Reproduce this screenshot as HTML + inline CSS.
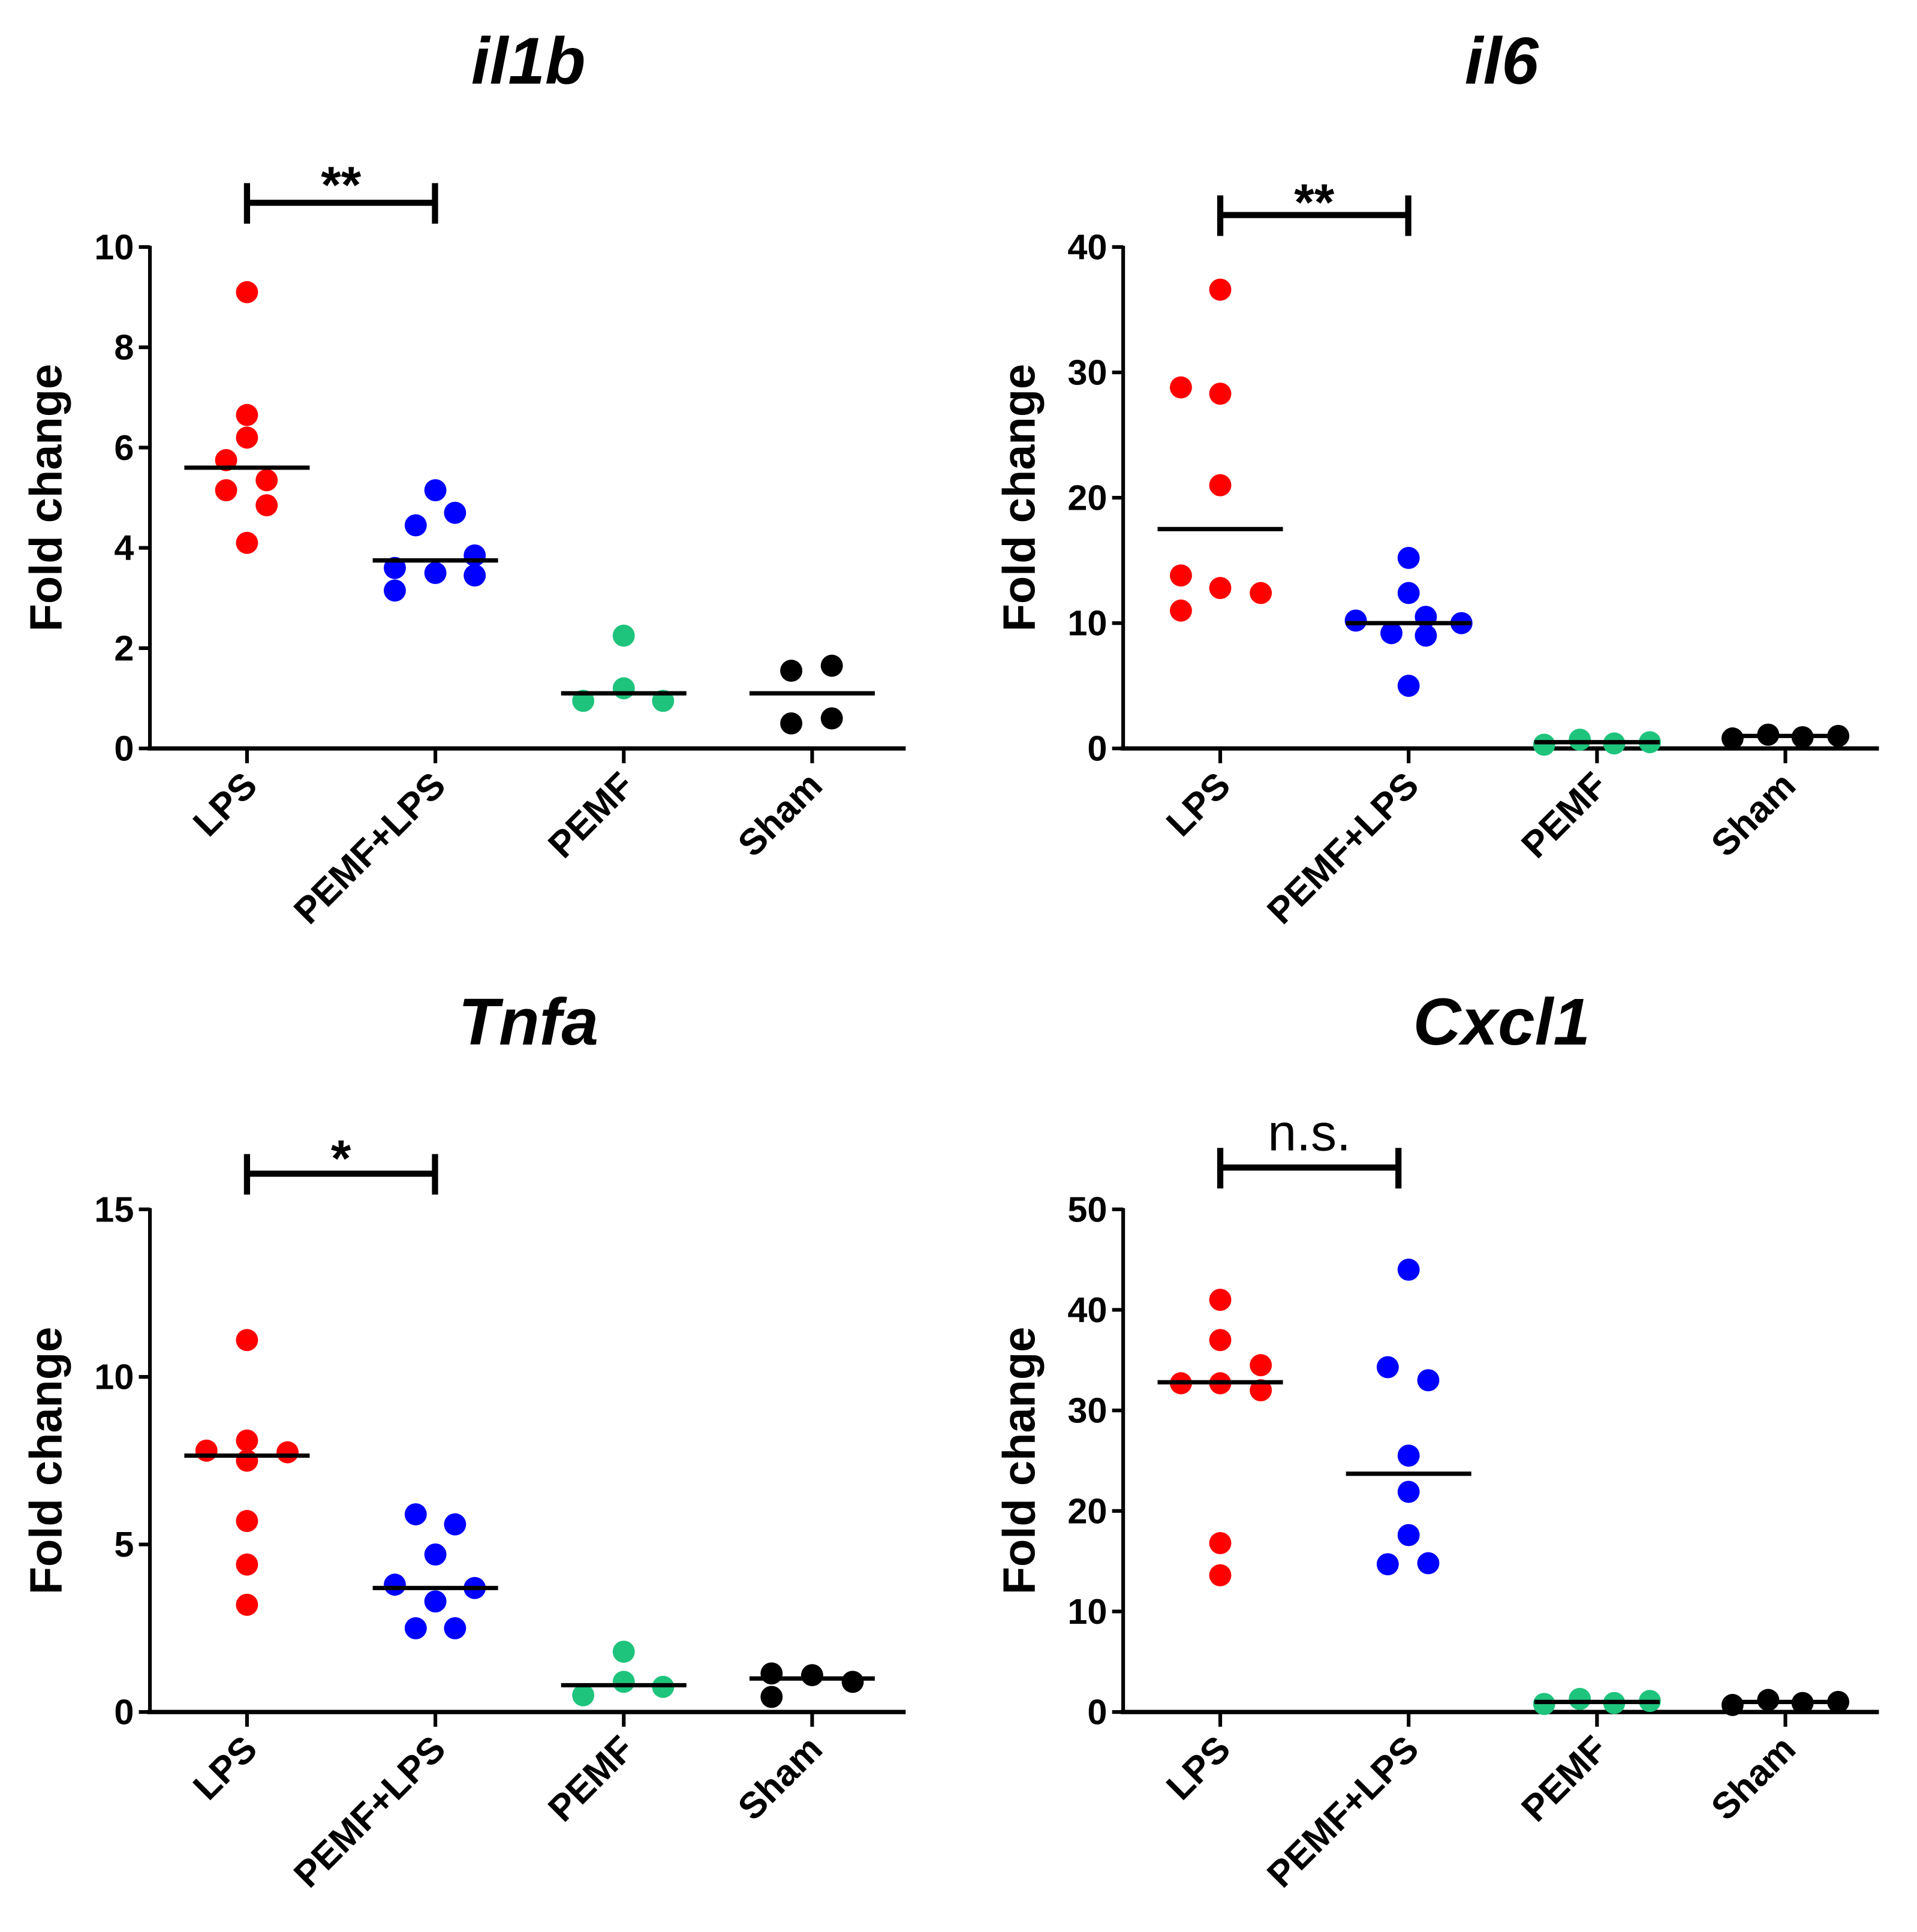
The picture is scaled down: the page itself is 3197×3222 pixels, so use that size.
<!DOCTYPE html>
<html><head><meta charset="utf-8"><style>html,body{margin:0;padding:0;background:#fff}svg{display:block}</style></head>
<body>
<svg id="fig" width="3197" height="3222" viewBox="0 0 1560 1572" preserveAspectRatio="none" xmlns="http://www.w3.org/2000/svg" font-family="Liberation Sans, Arial, sans-serif"></svg>
<script>
const categories = ["LPS","PEMF+LPS","PEMF","Sham"];
const colors = ["#ff0000","#0000ff","#1ec47c","#000000"];
// il1b
const il1bValues = [[9.1,6.65,6.2,5.75,5.15,5.35,4.85,4.1],[5.15,4.7,4.45,3.85,3.6,3.5,3.45,3.15],[2.25,1.2,0.95,0.95],[1.55,1.65,0.5,0.6]];
const il1bMeans = [5.6,3.75,1.1,1.1];
const il1bTicks = [0,2,4,6,8,10];
// il6
const il6Values = [[36.6,28.8,28.3,21,13.8,12.8,12.4,11],[15.2,12.4,10.2,10.5,10,9.2,9,5],[0.3,0.7,0.4,0.5],[0.8,1.1,0.9,1.0]];
const il6Means = [17.5,10,0.5,1];
const il6Ticks = [0,10,20,30,40];
// Tnfa
const tnfaValues = [[11.1,8.1,7.8,7.75,7.5,5.7,4.4,3.2],[5.9,5.6,4.7,3.8,3.7,3.3,2.5,2.5],[1.8,0.9,0.5,0.75],[1.15,0.45,1.1,0.9]];
const tnfaMeans = [7.65,3.7,0.8,1.0];
const tnfaTicks = [0,5,10,15];
// Cxcl1
const cxclValues = [[41,37,32.7,32.7,34.5,32,16.8,13.6],[44,34.3,33,25.5,21.9,17.6,14.7,14.8],[0.8,1.3,0.9,1.1],[0.7,1.2,0.9,1.0]];
const cxclMeans = [32.8,23.7,1.0,1.0];
const cxclTicks = [0,10,20,30,40,50];

// jitter offsets (layout only)
const jit8A=[0,0,0,-17,-17,16,16,0], jit8B=[0,16,-16,32,-33,0,32,-33];
const jit4=[0,0,-33,32], jit4s=[-17,16,-17,16], jit4r=[-43,-14,14,43];

const NS="http://www.w3.org/2000/svg";
const svg=document.getElementById('fig');
function el(tag,attrs,parent){const e=document.createElementNS(NS,tag);for(const k in attrs)e.setAttribute(k,attrs[k]);(parent||svg).appendChild(e);return e;}

function panel(o){
  const g=el('g',{});
  
  
  const x0=o.x0, yTop=o.yTop, yBot=o.yBot, xEnd=x0+615;
  const yS=v=>yBot-(v/o.max)*(yBot-yTop);
  const xS=i=>x0+79+i*153.3;
  const t=el('text',{x:x0+308,y:o.titleY,'text-anchor':'middle','font-size':54,'font-weight':'bold','font-style':'italic'},g);
  t.textContent=o.title;
  
  
  const yl=el('text',{x:0,y:0,'text-anchor':'middle','font-size':37,'font-weight':'bold',transform:`translate(${x0-72},${(yTop+yBot)/2}) rotate(-90)`},g);
  yl.textContent='Fold change';
  
  
  const ya=el('line',{x1:x0,y1:yTop-1,x2:x0,y2:yBot+1.5,stroke:'#000','stroke-width':3},g);
  
  
  const xa=el('line',{x1:x0-2,y1:yBot,x2:xEnd,y2:yBot,stroke:'#000','stroke-width':3.5},g);
  
  
  o.ticks.forEach(v=>{
    el('line',{x1:x0-9,y1:yS(v),x2:x0,y2:yS(v),stroke:'#000','stroke-width':3},g);
    const tl=el('text',{x:x0-13,y:yS(v)+10,'text-anchor':'end','font-size':29,'font-weight':'bold'},g);
    tl.textContent=v;
    
    
  });
  categories.forEach((c,i)=>{
    el('line',{x1:xS(i),y1:yBot,x2:xS(i),y2:yBot+12,stroke:'#000','stroke-width':3},g);
    const xl=el('text',{x:0,y:0,'text-anchor':'end','font-size':30,'font-weight':'bold',transform:`translate(${xS(i)+10},${yBot+32}) rotate(-45)`},g);
    xl.textContent=c;
    
    
    o.values[i].forEach((v,j)=>{
      const off=(o.jit[i]||[])[j]||0;
      const d=el('circle',{cx:xS(i)+off,cy:yS(v),r:9,fill:colors[i]},g);
      
      
    });
    const m=el('line',{x1:xS(i)-51,y1:yS(o.means[i]),x2:xS(i)+51,y2:yS(o.means[i]),stroke:'#000','stroke-width':3.5},g);
    
    
  });
  const bx1=xS(0), bx2=xS(0)+o.bw, by=o.bY;
  const b=el('path',{d:`M${bx1},${by-16}V${by+17}M${bx1},${by}H${bx2}M${bx2},${by-16}V${by+17}`,stroke:'#000','stroke-width':5,fill:'none'},g);
  
  
  const s=el('text',{x:(bx1+bx2)/2,y:by+o.sigDy,'text-anchor':'middle','font-size':o.sigSize,'font-weight':o.sigBold?'bold':'normal'},g);
  s.textContent=o.sig;
  
  
}

panel({name:'il1b',title:'il1b',x0:122,yTop:201,yBot:609,titleY:68,max:10,ticks:il1bTicks,values:il1bValues,means:il1bMeans,
  jit:[jit8A,jit8B,jit4,jit4s],bY:165,bw:153,sig:'**',sigDy:0,sigSize:42,sigBold:true});
panel({name:'il6',title:'il6',x0:914,yTop:201,yBot:609,titleY:68,max:40,ticks:il6Ticks,values:il6Values,means:il6Means,
  jit:[[0,-32,0,0,-32,0,33,-32],[0,0,-43,14,43,-14,14,0],jit4r,jit4r],bY:175,bw:153,sig:'**',sigDy:4,sigSize:42,sigBold:true});
panel({name:'tnfa',title:'Tnfa',x0:122,yTop:984,yBot:1393,titleY:850,max:15,ticks:tnfaTicks,values:tnfaValues,means:tnfaMeans,
  jit:[[0,0,-33,33,0,0,0,0],[-16,16,0,-33,32,0,-16,16],jit4,[-33,-33,0,33]],bY:955,bw:153,sig:'*',sigDy:2,sigSize:42,sigBold:true});
panel({name:'cxcl1',title:'Cxcl1',x0:914,yTop:984,yBot:1393,titleY:850,max:50,ticks:cxclTicks,values:cxclValues,means:cxclMeans,
  jit:[[0,0,-32,0,33,33,0,0],[0,-17,16,0,0,0,-17,16],jit4r,jit4r],bY:950,bw:145,sig:'n.s.',sigDy:-14,sigSize:42,sigBold:false});
</script>
</body></html>
